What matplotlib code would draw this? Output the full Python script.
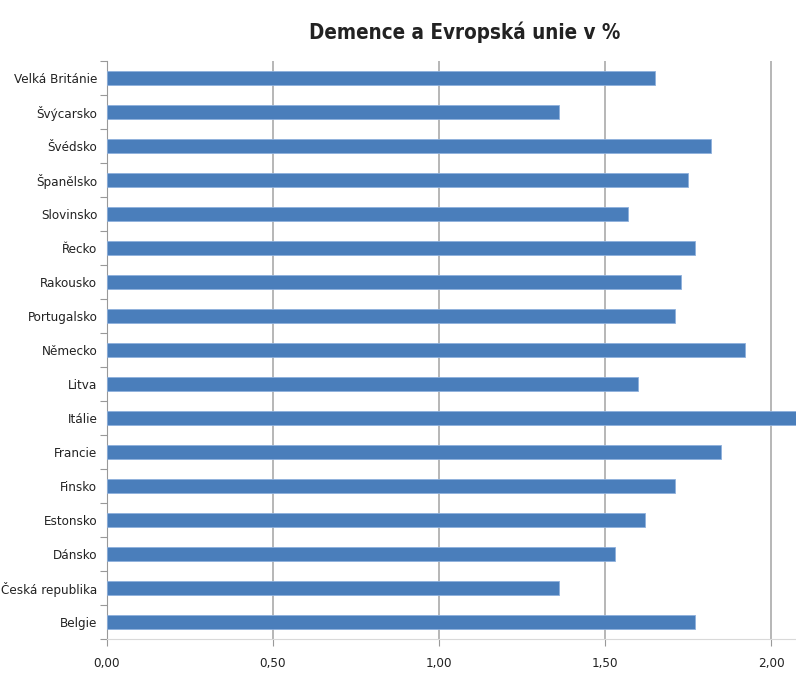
import matplotlib
matplotlib.use("Agg")
import matplotlib.pyplot as plt
from matplotlib import font_manager as fm
import os

countries = ["Velká Británie", "Švýcarsko", "Švédsko", "Španělsko", "Slovinsko",
             "Řecko", "Rakousko", "Portugalsko", "Německo", "Litva", "Itálie",
             "Francie", "Finsko", "Estonsko", "Dánsko", "Česká republika", "Belgie"]
values = [1.65, 1.36, 1.82, 1.75, 1.57, 1.77, 1.73, 1.71, 1.92, 1.60, 2.10,
          1.85, 1.71, 1.62, 1.53, 1.36, 1.77]
xticks = [0.0, 0.5, 1.0, 1.5, 2.0]
xticklabels = ["0,00", "0,50", "1,00", "1,50", "2,00"]
title = "Demence a Evropská unie v %"

cond = []
for f in fm.fontManager.ttflist:
    b = os.path.basename(f.fname)
    if ('ondensed' in b or 'Narrow' in b or f.stretch in ('condensed', 'semi-condensed')) and 'Oblique' not in b and 'Italic' not in b:
        cond.append(f)
reg = [f for f in cond if f.weight in (400, 'normal', 'regular')]
bold = [f for f in cond if f.weight in (700, 'bold')]

if reg:
    lab_fp = fm.FontProperties(fname=reg[0].fname, size=9.6)
else:
    lab_fp = fm.FontProperties(family='DejaVu Sans', size=8.5)
if bold:
    tit_fp = fm.FontProperties(fname=bold[0].fname, size=14.8)
else:
    tit_fp = fm.FontProperties(family='DejaVu Sans', weight='bold', size=14)

fig = plt.figure(figsize=(7.96, 6.73), dpi=100)
ax = fig.add_axes([107/796, 34/673, 1 - 107/796, (639-61)/673])

n = len(countries)
ypos = [n - 1 - i for i in range(n)]
ax.barh(ypos, values, height=0.4, color="#4a7ebb", edgecolor="#8eb0dc", linewidth=0.6, zorder=3)
ax.set_ylim(-0.5, n - 0.5)
ax.set_xlim(0, 2.075)

ax.set_yticks(ypos)
ax.set_yticklabels(countries, fontproperties=lab_fp, color="#222222")
ax.set_yticks([i + 0.5 for i in range(-1, n)], minor=True)
ax.tick_params(axis='y', which='major', length=0, pad=7)
ax.tick_params(axis='y', which='minor', length=5, color="#999999", width=0.8)

ax.set_xticks(xticks)
ax.set_xticklabels(xticklabels, fontproperties=lab_fp, color="#222222")
ax.tick_params(axis='x', length=5, color="#999999", width=0.8, pad=8)

ax.grid(axis='x', color="#aaaaaa", linewidth=1.2, zorder=0)
for s in ['top', 'right']:
    ax.spines[s].set_visible(False)
ax.spines['left'].set_color("#999999")
ax.spines['bottom'].set_color("#d9d9d9")
ax.spines['left'].set_linewidth(0.8)

fig.text(465/796, 1 - 32/673, title, ha='center', va='center',
         fontproperties=tit_fp, color="#222222")

fig.savefig("out.png", dpi=100)
